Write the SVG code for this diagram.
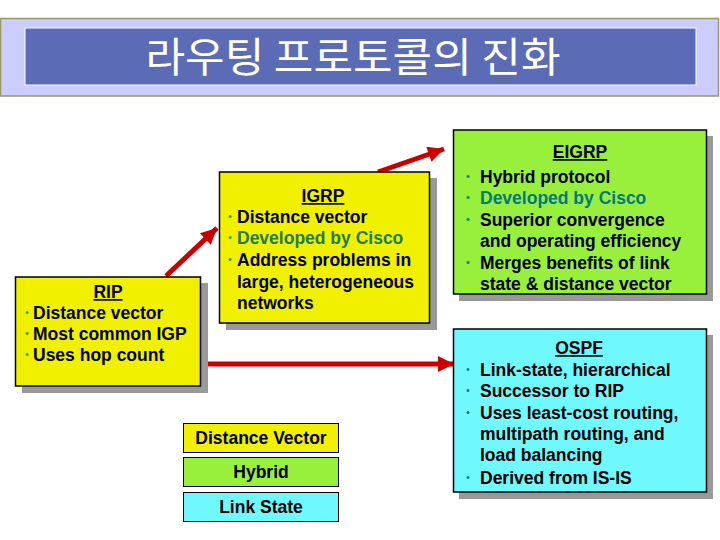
<svg xmlns="http://www.w3.org/2000/svg" width="720" height="540" viewBox="0 0 720 540">
<defs>
<marker id="ah" viewBox="0 0 10 10" refX="10" refY="5" markerWidth="4.6" markerHeight="3.2" markerUnits="strokeWidth" orient="auto">
<path d="M0,0 L10,5 L0,10 z" fill="#CC0000"/>
</marker>
<style>
.t{font-family:"Liberation Sans",Arial,sans-serif;font-weight:bold;font-size:17.5px;fill:#000}
.h{text-anchor:middle;text-decoration:underline}
.g{fill:#1F7A4F}
.tl{fill:#007A7A}
.b{font-family:"Liberation Sans",Arial,sans-serif;font-size:11px;fill:#2E9A4E}
.bt{font-family:"Liberation Sans",Arial,sans-serif;font-size:11px;fill:#008080}
.sh{fill:#999999}
.bx{stroke:#000;stroke-width:1.5}
.arr{stroke:#CC0000;stroke-width:5;fill:none;marker-end:url(#ah)}
</style>
</defs>
<rect width="720" height="540" fill="#fff"/>
<g id="title">
<rect x="0.5" y="18.5" width="718" height="77.5" fill="#CCCCFF" stroke="#999966" stroke-width="1.5"/>
<rect x="25" y="28" width="671" height="57" fill="#5C6BB6" stroke="#fff" stroke-width="1"/>
<text x="353" y="72" text-anchor="middle" font-family="'Noto Sans CJK KR',sans-serif" font-size="41" fill="#fff" textLength="415" lengthAdjust="spacingAndGlyphs">라우팅 프로토콜의 진화</text>
</g>
<g id="connectors">
<line class="arr" x1="166" y1="276" x2="217" y2="228"/>
<line class="arr" x1="378" y1="172" x2="444" y2="149"/>
<line class="arr" x1="201" y1="364" x2="454" y2="364"/>
</g>
<g id="rip">
<rect class="sh" x="22" y="283" width="186" height="110"/>
<rect class="bx" x="15.5" y="277" width="185" height="109" fill="#F0F000"/>
<text class="t h" x="108" y="298">RIP</text>
<text class="b" x="25" y="316">•</text><text class="t" x="33" y="319">Distance vector</text>
<text class="b" x="25" y="337">•</text><text class="t" x="33" y="340">Most common IGP</text>
<text class="b" x="25" y="358">•</text><text class="t" x="33" y="361">Uses hop count</text>
</g>
<g id="igrp">
<rect class="sh" x="226" y="178" width="211" height="152"/>
<rect class="bx" x="219.5" y="172" width="210" height="151" fill="#F0F000"/>
<text class="t h" x="323" y="202">IGRP</text>
<text class="b" x="228" y="220">•</text><text class="t" x="237" y="223">Distance vector</text>
<text class="b" x="228" y="241">•</text><text class="t g" x="237" y="244">Developed by Cisco</text>
<text class="b" x="228" y="263">•</text><text class="t" x="237" y="266">Address problems in</text>
<text class="t" x="237" y="288">large, heterogeneous</text>
<text class="t" x="237" y="309">networks</text>
</g>
<g id="eigrp">
<rect class="sh" x="459" y="136" width="254" height="165"/>
<rect class="bx" x="453.5" y="130" width="253" height="164" fill="#99F03C"/>
<text class="t h" x="580" y="158">EIGRP</text>
<text class="bt" x="466" y="180">•</text><text class="t" x="480" y="183">Hybrid protocol</text>
<text class="bt" x="466" y="201">•</text><text class="t tl" x="480" y="204">Developed by Cisco</text>
<text class="bt" x="466" y="223">•</text><text class="t" x="480" y="226">Superior convergence</text>
<text class="t" x="480" y="247">and operating efficiency</text>
<text class="bt" x="466" y="266">•</text><text class="t" x="480" y="269">Merges benefits of link</text>
<text class="t" x="480" y="290">state &amp; distance vector</text>
</g>
<g id="ospf">
<rect class="sh" x="459" y="335" width="254" height="164"/>
<rect class="bx" x="453.5" y="329" width="253" height="163" fill="#70F8FF"/>
<text class="t h" x="579" y="354">OSPF</text>
<text class="bt" x="466" y="373">•</text><text class="t" x="480" y="376">Link-state, hierarchical</text>
<text class="bt" x="466" y="394">•</text><text class="t" x="480" y="397">Successor to RIP</text>
<text class="bt" x="466" y="416">•</text><text class="t" x="480" y="419">Uses least-cost routing,</text>
<text class="t" x="480" y="440">multipath routing, and</text>
<text class="t" x="480" y="461">load balancing</text>
<text class="bt" x="466" y="481">•</text><text class="t" x="480" y="484">Derived from IS-IS</text>
</g>
<g id="legend-dv">
<rect x="183.5" y="423.5" width="155" height="29" fill="#F0F000" stroke="#000" stroke-width="1"/>
<text class="t" x="261" y="444" text-anchor="middle">Distance Vector</text>
</g>
<g id="legend-hybrid">
<rect x="183.5" y="457.5" width="155" height="29" fill="#99F03C" stroke="#000" stroke-width="1"/>
<text class="t" x="261" y="478" text-anchor="middle">Hybrid</text>
</g>
<g id="legend-ls">
<rect x="183.5" y="492.5" width="155" height="29" fill="#70F8FF" stroke="#000" stroke-width="1"/>
<text class="t" x="261" y="513" text-anchor="middle">Link State</text>
</g>
</svg>
